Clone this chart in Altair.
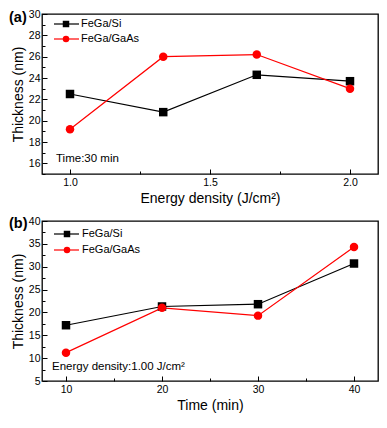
import altair as alt
import pandas as pd

series = ["FeGa/Si", "FeGa/GaAs"]
colors = ["#000000", "#ff0000"]
shapes = ["square", "circle"]

energy = [1.0, 1.333, 1.667, 2.0]
si_a = [22.5, 20.8, 24.3, 23.7]
gaas_a = [19.2, 26.0, 26.2, 23.0]

time_min = [10, 20, 30, 40]
si_b = [17.2, 21.3, 21.8, 30.7]
gaas_b = [11.2, 21.0, 19.3, 34.3]

FONT = "Liberation Sans"
W, H = 336, 160


def long_df(xs, a, b):
    rows = []
    for x, v in zip(xs, a):
        rows.append({"x": x, "y": v, "series": series[0]})
    for x, v in zip(xs, b):
        rows.append({"x": x, "y": v, "series": series[1]})
    return pd.DataFrame(rows)


def panel(df, xtitle, xdomain, xmajor, xminor, xfmt, ydomain, ymajor, yminor,
          tag, tag_y, note, note_x, note_y, leg):
    color = alt.Color("series:N", scale=alt.Scale(domain=series, range=colors), legend=None)
    shape = alt.Shape("series:N", scale=alt.Scale(domain=series, range=shapes), legend=None)
    common = dict(labelFont=FONT, titleFont=FONT, labelFontSize=10.5, titleFontSize=14,
                  labelColor="black", titleColor="black", tickColor="black",
                  titleFontWeight="normal", grid=False, domain=False, tickWidth=1)
    xmain = alt.X("x:Q", scale=alt.Scale(domain=xdomain, nice=False, zero=False),
                  axis=alt.Axis(values=xmajor, format=xfmt, orient="bottom", offset=-5,
                                tickSize=5, labelPadding=3, title=xtitle, titlePadding=4,
                                labelFlush=False, **common))
    ymain = alt.Y("y:Q", scale=alt.Scale(domain=ydomain, nice=False, zero=False),
                  axis=alt.Axis(values=ymajor, format="d", orient="left", offset=-5,
                                tickSize=5, labelPadding=2, title="Thickness (nm)",
                                titlePadding=3, labelFlush=False, **common))
    xmin = alt.X("x:Q", axis=alt.Axis(values=xminor, orient="bottom", offset=-3, tickSize=3,
                                      labels=False, title=None, grid=False, domain=False,
                                      tickColor="black"))
    ymin = alt.Y("y:Q", axis=alt.Axis(values=yminor, orient="left", offset=-3, tickSize=3,
                                      labels=False, title=None, grid=False, domain=False,
                                      tickColor="black"))
    base = alt.Chart(df)
    lines = base.mark_line(strokeWidth=1.2).encode(x=xmain, y=ymain, color=color, detail="series:N")
    pts = base.mark_point(filled=True, size=72, opacity=1).encode(x=xmin, y=ymin, color=color, shape=shape)

    layers = [lines, pts]
    lx0, lx1, lsx, ltx, ly = leg
    for i, name in enumerate(series):
        d = pd.DataFrame({"t": [name]})
        c = alt.Chart(d)
        layers.append(c.mark_rule(color=colors[i], strokeWidth=1.2).encode(
            x=alt.value(lx0), x2=alt.value(lx1), y=alt.value(ly[i])))
        layers.append(c.mark_point(shape=shapes[i], filled=True, size=42, opacity=1,
                                   color=colors[i]).encode(x=alt.value(lsx), y=alt.value(ly[i])))
        layers.append(c.mark_text(align="left", baseline="middle", font=FONT, fontSize=11,
                                  color="black").encode(x=alt.value(ltx), y=alt.value(ly[i]), text="t:N"))
    layers.append(alt.Chart(pd.DataFrame({"t": [note]})).mark_text(
        align="left", baseline="middle", font=FONT, fontSize=11.5, color="black").encode(
        x=alt.value(note_x), y=alt.value(note_y), text="t:N"))
    layers.append(alt.Chart(pd.DataFrame({"t": [tag]})).mark_text(
        align="left", baseline="middle", font=FONT, fontSize=14.5, fontWeight="bold",
        color="black").encode(x=alt.value(-33), y=alt.value(tag_y), text="t:N"))
    return alt.layer(*layers).resolve_axis(x="independent", y="independent").properties(width=W, height=H)


df_a = long_df(energy, si_a, gaas_a)
df_b = long_df(time_min, si_b, gaas_b)

pa = panel(df_a, "Energy density (J/cm²)", [0.9, 2.1], [1.0, 1.5, 2.0], [1.25, 1.75], ".1f",
           [15, 30], list(range(16, 31, 2)), list(range(15, 30, 2)),
           "(a)", 4, "Time:30 min", 14, H - 15, (12, 37, 24, 39, [10, 25]))
pb = panel(df_b, "Time (min)", [7.5, 42.5], [10, 20, 30, 40], [15, 25, 35], "d",
           [5, 40], list(range(5, 41, 5)), [7.5 + 5 * i for i in range(7)],
           "(b)", 3, "Energy density:1.00 J/cm²", 10, H - 14, (12, 37, 25, 40, [13, 29]))

chart = alt.vconcat(pa, pb, spacing=8).properties(padding=0).configure_view(
    stroke="black", strokeWidth=1.3)

chart.save("out.html", embed_options={"renderer": "svg", "actions": False})
